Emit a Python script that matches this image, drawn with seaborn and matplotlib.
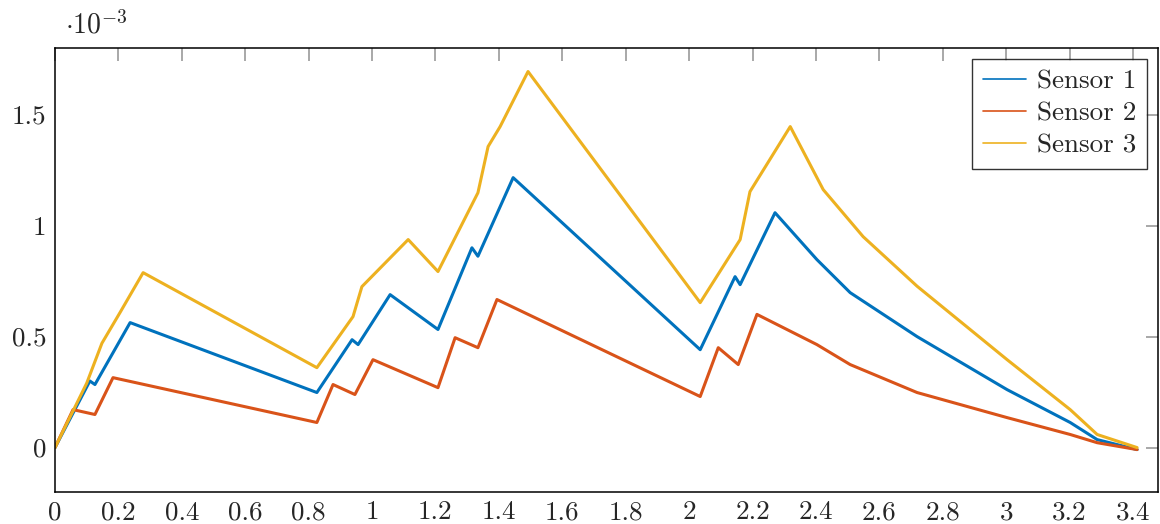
import numpy as np
import pandas as pd
import matplotlib
matplotlib.use("Agg")
import matplotlib.pyplot as plt
import seaborn as sns
from matplotlib.ticker import FormatStrFormatter

# time axis breakpoints and readings (values in units of 1e-3)
t_sensor1 = [0, 0.11, 0.126, 0.237, 0.826, 0.937, 0.956, 1.057, 1.208, 1.315, 1.334,
             1.445, 2.035, 2.145, 2.161, 2.271, 2.403, 2.508, 2.719, 3.003, 3.202,
             3.287, 3.413]
v_sensor1 = [0, 0.30, 0.284, 0.563, 0.248, 0.486, 0.464, 0.689, 0.532, 0.90, 0.862,
             1.216, 0.441, 0.77, 0.734, 1.058, 0.847, 0.698, 0.50, 0.261, 0.113,
             0.036, -0.009]

t_sensor2 = [0, 0.057, 0.126, 0.183, 0.826, 0.877, 0.946, 1.003, 1.208, 1.262, 1.334,
             1.394, 2.035, 2.092, 2.155, 2.214, 2.403, 2.508, 2.719, 3.003, 3.202,
             3.287, 3.413]
v_sensor2 = [0, 0.171, 0.149, 0.315, 0.113, 0.284, 0.239, 0.396, 0.27, 0.495, 0.45,
             0.667, 0.23, 0.45, 0.374, 0.60, 0.464, 0.374, 0.248, 0.135, 0.059,
             0.022, -0.009]

t_sensor3 = [0, 0.10, 0.148, 0.205, 0.278, 0.826, 0.94, 0.968, 1.114, 1.208, 1.334,
             1.366, 1.404, 1.492, 2.035, 2.161, 2.192, 2.319, 2.423, 2.549, 2.719,
             3.003, 3.202, 3.287, 3.413]
v_sensor3 = [0, 0.29, 0.47, 0.608, 0.788, 0.36, 0.59, 0.725, 0.937, 0.793, 1.148,
             1.356, 1.446, 1.694, 0.653, 0.937, 1.153, 1.446, 1.162, 0.95, 0.727,
             0.396, 0.171, 0.059, 0.0]

labels = ["Sensor 1", "Sensor 2", "Sensor 3"]
colors = ["#0072BD", "#D95319", "#EDB120"]

x_ticks = [0, 0.2, 0.4, 0.6, 0.8, 1, 1.2, 1.4, 1.6, 1.8, 2, 2.2, 2.4, 2.6, 2.8, 3, 3.2, 3.4]
y_ticks = [0, 0.5, 1, 1.5]

frames = []
for name, t, v in zip(labels, [t_sensor1, t_sensor2, t_sensor3],
                      [v_sensor1, v_sensor2, v_sensor3]):
    frames.append(pd.DataFrame({"t": t, "v": v, "sensor": name}))
df = pd.concat(frames, ignore_index=True)

sns.set_style("white")
plt.rcParams["font.family"] = ["cmr10", "DejaVu Serif"]
plt.rcParams["mathtext.fontset"] = "cm"
plt.rcParams["axes.formatter.use_mathtext"] = True

fig = plt.figure(figsize=(11.6, 5.24), dpi=100)
ax = fig.add_axes([0.0474, 0.0611, 0.9509, 0.8473])

sns.lineplot(data=df, x="t", y="v", hue="sensor", palette=colors,
             estimator=None, sort=False, linewidth=2.2, ax=ax)

ax.set_xlim(0, 3.479)
ax.set_ylim(-0.2, 1.8)
ax.set_xticks(x_ticks)
ax.set_yticks(y_ticks)
ax.xaxis.set_major_formatter(FormatStrFormatter("%g"))
ax.yaxis.set_major_formatter(FormatStrFormatter("%g"))
ax.set_xlabel("")
ax.set_ylabel("")
ax.tick_params(direction="in", length=9, width=1.2, color="#9a9a9a",
               labelsize=19.5, top=True, right=True, pad=6)
for s in ax.spines.values():
    s.set_color("black")
    s.set_linewidth(1.1)

ax.text(0.009, 1.02, r"$\cdot10^{-3}$", transform=ax.transAxes,
        fontsize=20, ha="left", va="bottom")

leg = ax.legend(loc="upper right", fontsize=19.5, frameon=True, fancybox=False,
                edgecolor="black", borderaxespad=0.4, handlelength=1.6,
                labelspacing=0.3, borderpad=0.4, handletextpad=0.4)
leg.get_frame().set_linewidth(1.0)
for line in leg.get_lines():
    line.set_linewidth(1.2)

fig.savefig("out.png", dpi=100)
